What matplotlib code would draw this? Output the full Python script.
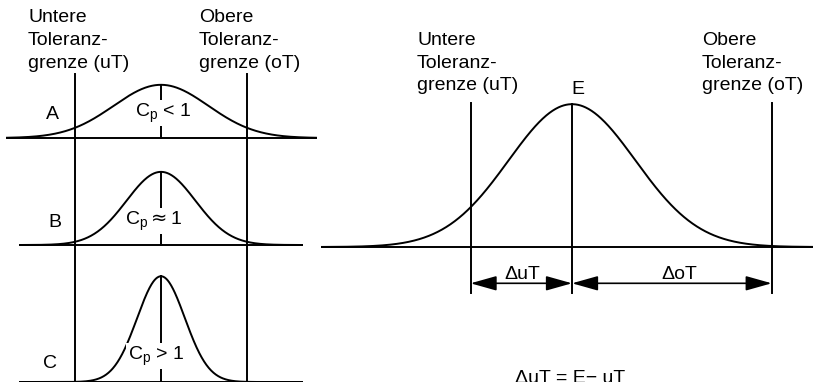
import numpy as np
import matplotlib
matplotlib.use('Agg')
import matplotlib.pyplot as plt

plt.rcParams['font.family'] = ['Liberation Sans', 'DejaVu Sans']
plt.rcParams['mathtext.fontset'] = 'custom'
plt.rcParams['mathtext.rm'] = 'Liberation Sans'
plt.rcParams['mathtext.it'] = 'Liberation Sans:italic'
plt.rcParams['mathtext.bf'] = 'Liberation Sans:bold'
plt.rcParams['mathtext.sf'] = 'DejaVu Sans'

# ---------------- data ----------------
panel_names = ['A', 'B', 'C']
cp_labels = [r'C$_\mathrm{p}$ < 1', r'C$_\mathrm{p}\mathsf{\approx}$1',
             r'C$_\mathrm{p}$ > 1']
panel_sigmas = [1.65, 1.20, 0.83]      # process spread, units where uT=-3, oT=+3
left_limits = [-3.0, 3.0]              # uT, oT (left diagrams)
label_u = ['Untere', 'Toleranz-', 'grenze (uT)']
label_o = ['Obere', 'Toleranz-', 'grenze (oT)']
right_E = 0.0
right_sigma = 1.0
right_limits = [-1.6, 3.15]            # uT, oT (right diagram, sigma units)
delta_labels = ['ΔuT', 'ΔoT']
formula = 'ΔuT = E− uT'


def pdf(x, mu, s):
    return np.exp(-0.5 * ((x - mu) / s) ** 2) / (s * np.sqrt(2 * np.pi))


W, H = 813, 382
FS = 14
LW = 1.4
fig = plt.figure(figsize=(W / 100, H / 100), dpi=100)


def rect(x0, y0, x1, y1):
    return [x0 / W, 1 - y1 / H, (x1 - x0) / W, (y1 - y0) / H]


def T(x, y, s, ha='left', va='baseline', **kw):
    return fig.text(x / W, 1 - y / H, s, fontsize=FS, ha=ha, va=va, **kw)


# ---------------- left column ----------------
sx, cx = 28.67, 161.0      # px per unit, centre px
sy = 220.0                 # px per density unit
axL = fig.add_axes(rect(0, 0, 320, 382))
axL.set_xlim(-cx / sx, (320 - cx) / sx)
axL.set_ylim(0, H / sy)
axL.axis('off')

offsets = [(H - 138) / sy, (H - 245) / sy, 0.0]
extents = [((7 - cx) / sx, (316 - cx) / sx),
           ((20 - cx) / sx, (302 - cx) / sx),
           ((20 - cx) / sx, (302 - cx) / sx)]
for name, lab, s, off, (x0, x1) in zip(panel_names, cp_labels, panel_sigmas,
                                      offsets, extents):
    axL.plot([x0, x1], [off, off], color='black', lw=LW, clip_on=False)
    xs = np.linspace(x0, x1, 600)
    axL.plot(xs, off + pdf(xs, 0.0, s), color='black', lw=LW, clip_on=False)
    axL.plot([0, 0], [off, off + pdf(0.0, 0.0, s)], color='black', lw=LW,
             clip_on=False)

top_y = (H - 74) / sy
for lim in left_limits:
    axL.plot([lim, lim], [-0.05, top_y], color='black', lw=LW, clip_on=False)

# panel letters and Cp labels
for name, (px, py) in zip(panel_names, [(52, 119), (54.5, 227), (50, 368)]):
    T(px, py, name, ha='center')
for lab, (px, py) in zip(cp_labels, [(163.5, 117), (153.5, 225), (156, 360)]):
    T(px, py, lab, ha='center', zorder=5,
      bbox=dict(facecolor='white', edgecolor='none', pad=1.0))

for i, (a, b) in enumerate(zip(label_u, label_o)):
    yb = [21.7, 45, 68.3][i]
    T(28, yb, a)
    T(199, yb, b)

# ---------------- right diagram ----------------
rsx, rcx = 63.4, 572.0
rsy, rby = 358.0, 247.0
axR = fig.add_axes(rect(320, 0, 813, 382))
axR.set_xlim((320 - rcx) / rsx, (813 - rcx) / rsx)
axR.set_ylim((rby - H) / rsy, rby / rsy)
axR.axis('off')

x0, x1 = (322 - rcx) / rsx, (813 - rcx) / rsx
axR.plot([x0, x1], [0, 0], color='black', lw=LW, clip_on=False)
xs = np.linspace(x0, x1, 800)
axR.plot(xs, pdf(xs, right_E, right_sigma), color='black', lw=LW)

y_low = (rby - 293) / rsy
y_top = (rby - 103) / rsy
for lim in right_limits:
    axR.plot([lim, lim], [y_low, y_top], color='black', lw=LW)
axR.plot([right_E, right_E], [y_low, pdf(right_E, right_E, right_sigma)],
         color='black', lw=LW)

ya = (rby - 283.3) / rsy
astyle = '<|-|>,head_length=1.6,head_width=0.45'
for a, b in [(right_limits[0], right_E), (right_E, right_limits[1])]:
    axR.annotate('', xy=(b, ya), xytext=(a, ya),
                 arrowprops=dict(arrowstyle=astyle, mutation_scale=10,
                                 shrinkA=0, shrinkB=0, lw=1.2, color='black',
                                 fc='black'))

T(522.5, 279, delta_labels[0], ha='center')
T(679.5, 279, delta_labels[1], ha='center')
T(578, 94, 'E', ha='center')

for i, (a, b) in enumerate(zip(label_u, label_o)):
    yb = [45, 68.3, 90][i]
    T(417, yb, a)
    T(702, yb, b)

T(570.5, 383, formula, ha='center')

fig.savefig('out.png', dpi=100)
